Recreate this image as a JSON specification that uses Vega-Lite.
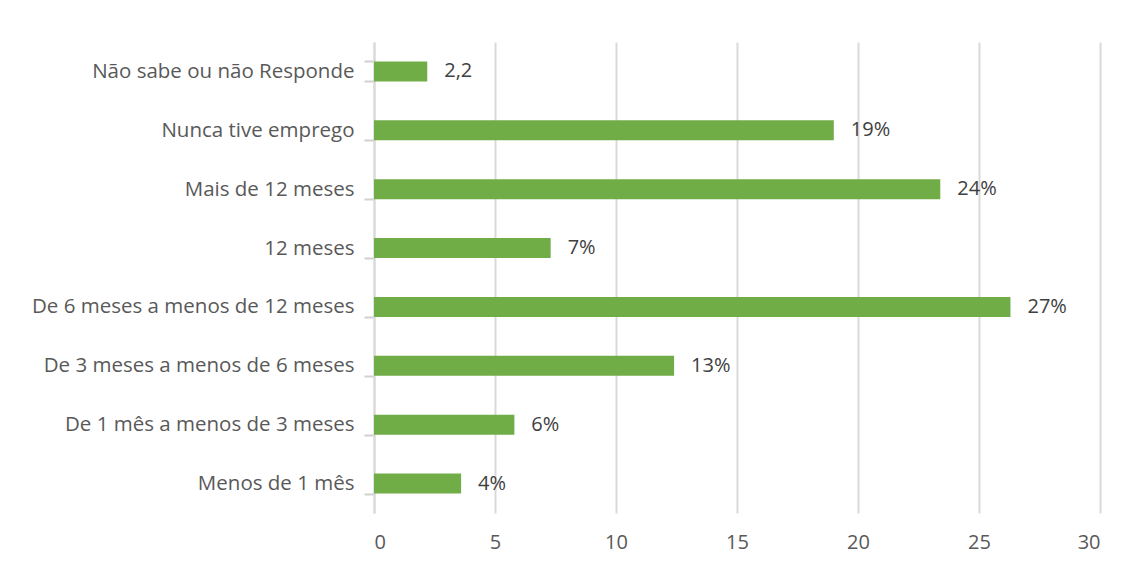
{
  "$schema": "https://vega.github.io/schema/vega-lite/v6.json",
  "autosize": "none",
  "width": 726,
  "height": 471,
  "padding": {"left": 374, "top": 42, "right": 31, "bottom": 55},
  "background": "white",
  "config": {"view": {"stroke": null}, "font": "Open Sans"},
  "data": {"values": [
    {"cat": "Não sabe ou não Responde", "v": 2.2, "lbl": "2,2"},
    {"cat": "Nunca tive emprego", "v": 19.0, "lbl": "19%"},
    {"cat": "Mais de 12 meses", "v": 23.4, "lbl": "24%"},
    {"cat": "12 meses", "v": 7.3, "lbl": "7%"},
    {"cat": "De 6 meses a menos de 12 meses", "v": 26.3, "lbl": "27%"},
    {"cat": "De 3 meses a menos de 6 meses", "v": 12.4, "lbl": "13%"},
    {"cat": "De 1 mês a menos de 3 meses", "v": 5.8, "lbl": "6%"},
    {"cat": "Menos de 1 mês", "v": 3.6, "lbl": "4%"}
  ]},
  "encoding": {
    "y": {"field": "cat", "type": "nominal", "sort": null,
      "scale": {"paddingInner": 0.66, "paddingOuter": 0.33},
      "axis": {"title": null, "labelFontSize": 20.5, "labelColor": "#595959", "labelPadding": 10,
        "domainColor": "#d9d9d9", "domainWidth": 2, "tickColor": "#d0d0d0", "tickWidth": 2, "tickSize": 10,
        "tickBand": "extent", "labelLimit": 400, "grid": false}},
    "x": {"field": "v", "type": "quantitative",
      "scale": {"domain": [0, 30], "nice": false},
      "axis": {"title": null, "values": [0, 5, 10, 15, 20, 25, 30], "labelFontSize": 20, "labelColor": "#595959",
        "grid": true, "gridColor": "#d9d9d9", "gridWidth": 2, "domain": false, "ticks": false, "labelPadding": 19}}
  },
  "layer": [
    {"mark": {"type": "bar", "color": "#70ad47"}},
    {"mark": {"type": "text", "align": "left", "dx": 17, "fontSize": 20, "color": "#404040"},
      "encoding": {"text": {"field": "lbl"}}}
  ]
}
